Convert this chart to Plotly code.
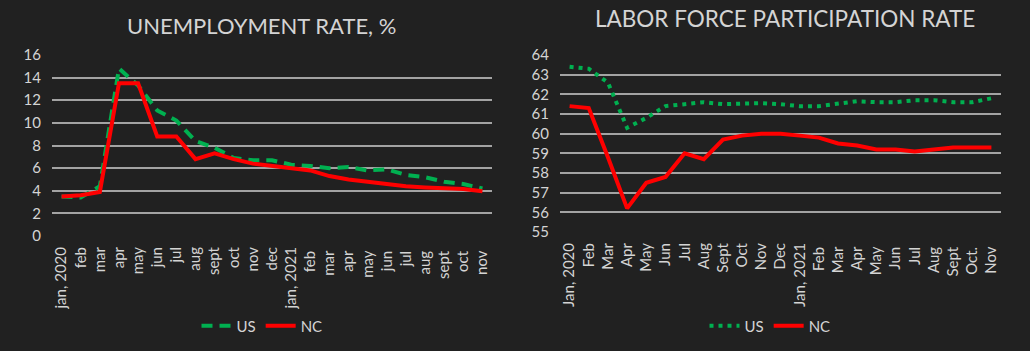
import plotly.graph_objects as go

months_unemp = ["jan, 2020", "feb", "mar", "apr", "may", "jun", "jul", "aug", "sept", "oct", "nov", "dec",
                "jan, 2021", "feb ", "mar ", "apr ", "may ", "jun ", "jul ", "aug ", "sept ", "oct ", "nov "]
us_unemp = [3.5, 3.4, 4.4, 14.8, 13.3, 11.1, 10.2, 8.4, 7.8, 6.9, 6.7, 6.7,
            6.3, 6.2, 6.0, 6.1, 5.8, 5.9, 5.4, 5.2, 4.8, 4.6, 4.2]
nc_unemp = [3.5, 3.6, 3.9, 13.5, 13.5, 8.8, 8.8, 6.8, 7.3, 6.8, 6.4, 6.2,
            6.0, 5.8, 5.3, 5.0, 4.8, 4.6, 4.4, 4.3, 4.2, 4.15, 3.95]

months_lfpr = ["Jan, 2020", "Feb", "Mar", "Apr", "May", "Jun", "Jul", "Aug", "Sept", "Oct", "Nov", "Dec",
               "Jan, 2021", "Feb ", "Mar ", "Apr ", "May ", "Jun ", "Jul ", "Aug ", "Sept ", "Oct. ", "Nov "]
us_lfpr = [63.4, 63.3, 62.6, 60.3, 60.8, 61.4, 61.5, 61.6, 61.5, 61.55, 61.55, 61.5,
           61.4, 61.4, 61.5, 61.65, 61.6, 61.6, 61.7, 61.7, 61.6, 61.6, 61.8]
nc_lfpr = [61.4, 61.3, 58.8, 56.2, 57.5, 57.8, 59.0, 58.7, 59.7, 59.9, 60.0, 60.0,
           59.9, 59.8, 59.5, 59.4, 59.2, 59.2, 59.1, 59.2, 59.3, 59.3, 59.3]

BG = "#212121"
GRID = "#a3a3a3"
TXT = "#d4d4d4"
GREEN = "#00b050"
RED = "#ff0000"
FONT = "Lato"

fig = go.Figure()

fig.add_trace(go.Scatter(x=months_unemp, y=us_unemp, name="US", mode="lines",
                         line=dict(color=GREEN, width=4, dash="11px,7px"),
                         xaxis="x", yaxis="y", legend="legend"))
fig.add_trace(go.Scatter(x=months_unemp, y=nc_unemp, name="NC", mode="lines",
                         line=dict(color=RED, width=4),
                         xaxis="x", yaxis="y", legend="legend"))
fig.add_trace(go.Scatter(x=months_lfpr, y=us_lfpr, name="US", mode="lines",
                         line=dict(color=GREEN, width=4, dash="4px,5px"),
                         xaxis="x2", yaxis="y2", legend="legend2"))
fig.add_trace(go.Scatter(x=months_lfpr, y=nc_lfpr, name="NC", mode="lines",
                         line=dict(color=RED, width=4),
                         xaxis="x2", yaxis="y2", legend="legend2"))

W, H = 1030, 351

def px_x(p):
    return p / W

def px_y(p):
    return 1 - p / H

xcommon = dict(type="category", range=[-0.5, 22.5], showgrid=False, zeroline=False,
               showline=False, ticks="", tickangle=-90, ticklabelstandoff=6, automargin=False,
               tickfont=dict(family=FONT, size=15, color=TXT))
ycommon = dict(showgrid=True, gridcolor=GRID, gridwidth=1.5, zeroline=False, showline=False,
               ticks="", ticklabelstandoff=10, automargin=False,
               tickfont=dict(family=FONT, size=15, color=TXT))

fig.update_layout(
    width=W, height=H,
    margin=dict(l=0, r=0, t=0, b=0, autoexpand=False),
    paper_bgcolor=BG, plot_bgcolor=BG,
    font=dict(family=FONT, color=TXT),
    xaxis=dict(**xcommon, domain=[px_x(52), px_x(492)], anchor="y"),
    yaxis=dict(**ycommon, domain=[px_y(237), px_y(54)],
               range=[-0.08, 16.08], dtick=2, tick0=0, anchor="x"),
    xaxis2=dict(**xcommon, domain=[px_x(560), px_x(1001)], anchor="y2"),
    yaxis2=dict(**ycommon, domain=[px_y(233), px_y(54)],
                range=[54.95, 64.05], dtick=1, tick0=55, anchor="x2"),
    legend=dict(orientation="h", x=px_x(262), y=px_y(326), xanchor="center", yanchor="middle",
                font=dict(family=FONT, size=15, color=TXT), bgcolor="rgba(0,0,0,0)",
                itemwidth=30),
    legend2=dict(orientation="h", x=px_x(770), y=px_y(326), xanchor="center", yanchor="middle",
                 font=dict(family=FONT, size=15, color=TXT), bgcolor="rgba(0,0,0,0)",
                 itemwidth=30),
    annotations=[
        dict(text="UNEMPLOYMENT RATE, %", x=px_x(261), y=px_y(25), xref="paper", yref="paper",
             xanchor="center", yanchor="middle", showarrow=False,
             font=dict(family=FONT, size=22, color=TXT)),
        dict(text="LABOR FORCE PARTICIPATION RATE", x=px_x(785), y=px_y(19), xref="paper", yref="paper",
             xanchor="center", yanchor="middle", showarrow=False,
             font=dict(family=FONT, size=22.5, color=TXT)),
    ],
)

fig.write_html("out.html")
